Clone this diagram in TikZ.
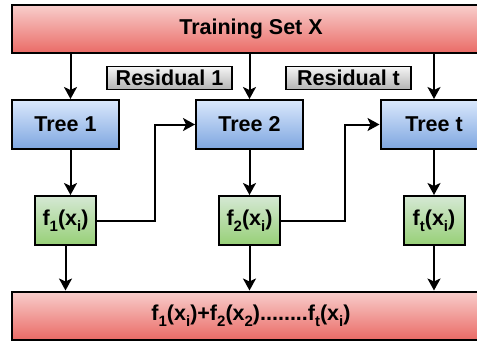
\documentclass[tikz,border=0pt]{standalone}
\usepackage{fontspec}
\setmainfont{Liberation Sans}
\usepackage{tikz}
\usetikzlibrary{arrows.meta}
\definecolor{gbRedTop}{HTML}{F8CECC}
\definecolor{gbRedBot}{HTML}{EA6B66}
\definecolor{gbBlueTop}{HTML}{DAE8FC}
\definecolor{gbBlueBot}{HTML}{7EA6E0}
\definecolor{gbGreenTop}{HTML}{D5E8D4}
\definecolor{gbGreenBot}{HTML}{97D077}
\definecolor{gbGrayTop}{HTML}{F5F5F5}
\definecolor{gbGrayBot}{HTML}{B3B3B3}
\newcommand{\lowsub}[1]{\raisebox{-0.28em}{\fontsize{15}{16}\selectfont #1}}

\begin{document}
\begin{tikzpicture}[x=1pt, y=-1pt,
    box/.style={draw=black, line width=2pt, inner sep=0pt,
      font=\fontsize{21.5}{24}\selectfont\bfseries},
    redbox/.style={box, top color=gbRedTop, bottom color=gbRedBot,
      minimum width=478pt, minimum height=48pt},
    treebox/.style={box, top color=gbBlueTop, bottom color=gbBlueBot,
      minimum width=107pt, minimum height=49pt},
    fbox/.style={box, top color=gbGreenTop, bottom color=gbGreenBot,
      minimum width=61pt, minimum height=49pt},
    resbox/.style={box, line width=1.5pt, top color=gbGrayTop, bottom color=gbGrayBot,
      minimum width=125pt, minimum height=23pt},
    flow/.style={draw=black, line width=2pt, -{Stealth[length=12pt, width=13pt, inset=3pt]}}]
    \useasboundingbox (0,0) rectangle (477,341);
    \clip (0,0) rectangle (477,341);

    % data and sum
    \node[redbox] (train) at (251,29) {Training Set X};
    \node[redbox] (sum) at (251,315.5) {f\lowsub{1}(x\lowsub{i})+f\lowsub{2}(x\lowsub{2})........f\lowsub{t}(x\lowsub{i})};

    % residual labels
    \node[resbox] (res1) at (169.5,78) {Residual 1};
    \node[resbox] (rest) at (348.5,78) {Residual t};

    % trees
    \node[treebox] (tree1) at (65.5,124.5) {Tree 1};
    \node[treebox] (tree2) at (249.5,124.5) {Tree 2};
    \node[treebox] (treet) at (434,124.5) {Tree t};

    % tree outputs
    \node[fbox] (f1) at (65.5,220.5) {f\lowsub{1}(x\lowsub{i})};
    \node[fbox] (f2) at (249.5,220.5) {f\lowsub{2}(x\lowsub{i})};
    \node[fbox] (ft) at (434,220.5) {f\lowsub{t}(x\lowsub{i})};

    % training set to trees
    \draw[flow] ([xshift=5pt]tree1.north |- train.south) -- ([xshift=5pt]tree1.north);
    \draw[flow] (tree2.north |- train.south) -- (tree2.north);
    \draw[flow] (treet.north |- train.south) -- (treet.north);

    % trees to outputs
    \draw[flow] ([xshift=5pt]tree1.south) -- ([xshift=5pt]f1.north);
    \draw[flow] (tree2.south) -- (f2.north);
    \draw[flow] (treet.south) -- (ft.north);

    % outputs to next tree
    \draw[flow] (f1.east) -- ++(58,0) |- (tree2.west);
    \draw[flow] (f2.east) -- ++(64,0) |- (treet.west);

    % outputs to sum
    \draw[flow] (f1.south) -- (f1.south |- sum.north);
    \draw[flow] (f2.south) -- (f2.south |- sum.north);
    \draw[flow] (ft.south) -- (ft.south |- sum.north);
\end{tikzpicture}
\end{document}
